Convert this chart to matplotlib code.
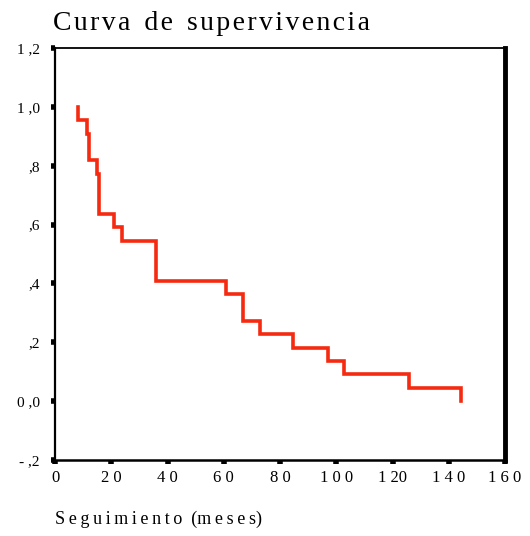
import matplotlib

matplotlib.use("Agg")
import matplotlib.pyplot as plt

# Kaplan-Meier style steps
tiempos = [8.3, 11.5, 12.1, 14.9, 15.8, 20.8, 23.8, 36.0, 60.8, 66.8,
           72.8, 84.6, 97.0, 102.8, 126.0, 144.5]
supervivencia = [1.0, 0.955, 0.909, 0.818, 0.773, 0.636, 0.591, 0.545, 0.409,
                 0.364, 0.273, 0.227, 0.182, 0.136, 0.091, 0.045, 0.0]

x_ticks = [0, 20, 40, 60, 80, 100, 120, 140, 160]
x_labels = ["0", "2 0", "4 0", "6 0", "8 0", "1 0 0", "1 20", "1 4 0", "1 6 0"]
y_ticks = [-0.2, 0.0, 0.2, 0.4, 0.6, 0.8, 1.0, 1.2]
y_labels = ["- ,2", "0 ,0", ",2", ",4", ",6", ",8", "1 ,0", "1 ,2"]

SERIF = ["Liberation Serif", "DejaVu Serif"]
plt.rcParams["font.family"] = SERIF

fig = plt.figure(figsize=(5.3, 5.36), dpi=100)
ax = fig.add_axes([55 / 530, 1 - 460 / 536, 450 / 530, 412 / 536])

# step path: vertical drop at each event time
xs = [tiempos[0]]
ys = [supervivencia[0]]
for t, s in zip(tiempos, supervivencia[1:]):
    xs += [t, t]
    ys += [ys[-1], s]
ax.plot(xs, ys, color="#f52a10", lw=2.6, solid_joinstyle="miter")

ax.set_xlim(0, 160)
ax.set_ylim(-0.2, 1.2)
ax.set_xticks(x_ticks)
ax.set_xticklabels(x_labels, fontsize=12)
ax.set_yticks(y_ticks)
ax.set_yticklabels(y_labels, fontsize=11)
ax.tick_params(axis="both", direction="out", length=3, width=4, color="black")
ax.tick_params(axis="y", pad=8)
ax.tick_params(axis="x", pad=4)

ax.spines["left"].set_linewidth(1.6)
ax.spines["top"].set_linewidth(1.3)
ax.spines["bottom"].set_linewidth(1.8)
ax.spines["right"].set_linewidth(3.5)

titulo = "\u200a".join("Curva") + "  " + "\u200a".join("de") + "  " + "\u200a".join("supervivencia")
fig.text(53 / 530, 1 - 23 / 536, titulo, fontsize=20, va="center", ha="left")
etiqueta = "\u2009".join("Seguimiento") + "  (" + "\u2009".join("meses") + ")"
fig.text(55 / 530, 1 - 519 / 536, etiqueta, fontsize=13, va="center", ha="left")

fig.savefig("out.png", dpi=100)
